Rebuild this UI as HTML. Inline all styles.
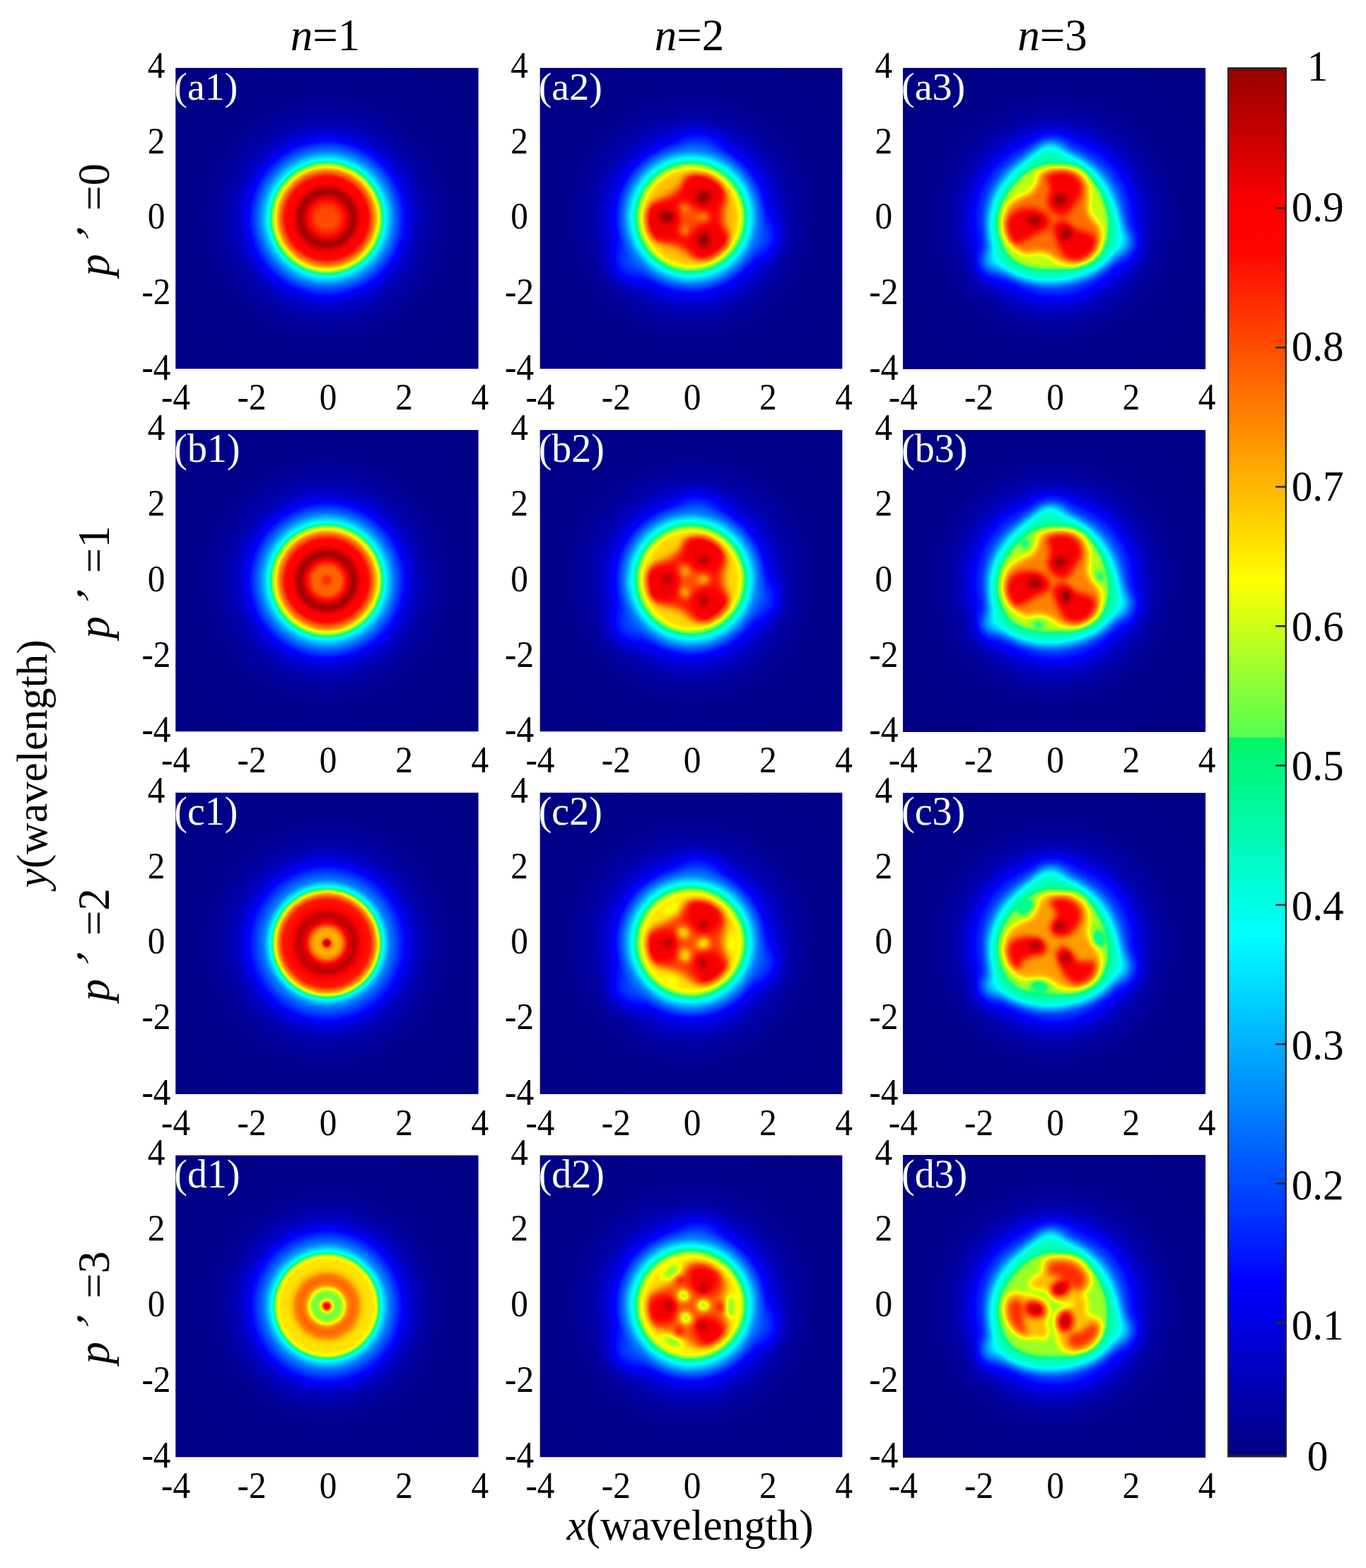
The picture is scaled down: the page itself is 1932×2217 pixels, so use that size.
<!DOCTYPE html>
<html lang="en"><head><meta charset="utf-8"><title>Figure</title>
<style>html,body{margin:0;padding:0;background:#fff}svg{display:block}text{font-family:"Liberation Serif","DejaVu Serif",serif;fill:#000}.t{font-size:52px}.b{font-size:63px}.i{font-style:italic}.w{fill:#fff;font-size:56px}</style></head><body>
<svg width="1932" height="2217" viewBox="0 0 1932 2217">
<defs>
<filter id="jet" x="0" y="0" width="100%" height="100%" color-interpolation-filters="sRGB"><feComponentTransfer><feFuncR type="table" tableValues="0 0 0 0 0 0 0 0 0 0 0 0 0 0 0 0 0 0.402 0.62 0.818 1 1 1 1 1 1 1 1 1 0.883 0.765 0.647 0.53"/><feFuncG type="table" tableValues="0 0 0 0 0 0.125 0.25 0.375 0.5 0.625 0.75 0.875 1 1 1 1 1 1 1 1 1 0.875 0.75 0.625 0.5 0.375 0.25 0.125 0 0 0 0 0"/><feFuncB type="table" tableValues="0.52 0.64 0.76 0.88 1 1 1 1 1 1 1 1 1 0.875 0.75 0.625 0.5 0.299 0.14 0.041 0 0 0 0 0 0 0 0 0 0 0 0 0"/></feComponentTransfer></filter>
<filter id="b3" filterUnits="userSpaceOnUse" x="-60" y="-60" width="548" height="546" color-interpolation-filters="sRGB"><feGaussianBlur stdDeviation="3"/></filter>
<filter id="b3_5" filterUnits="userSpaceOnUse" x="-60" y="-60" width="548" height="546" color-interpolation-filters="sRGB"><feGaussianBlur stdDeviation="3.5"/></filter>
<filter id="b4" filterUnits="userSpaceOnUse" x="-60" y="-60" width="548" height="546" color-interpolation-filters="sRGB"><feGaussianBlur stdDeviation="4"/></filter>
<filter id="b5" filterUnits="userSpaceOnUse" x="-60" y="-60" width="548" height="546" color-interpolation-filters="sRGB"><feGaussianBlur stdDeviation="5"/></filter>
<filter id="b6" filterUnits="userSpaceOnUse" x="-60" y="-60" width="548" height="546" color-interpolation-filters="sRGB"><feGaussianBlur stdDeviation="6"/></filter>
<filter id="b7" filterUnits="userSpaceOnUse" x="-60" y="-60" width="548" height="546" color-interpolation-filters="sRGB"><feGaussianBlur stdDeviation="7"/></filter>
<filter id="b8" filterUnits="userSpaceOnUse" x="-60" y="-60" width="548" height="546" color-interpolation-filters="sRGB"><feGaussianBlur stdDeviation="8"/></filter>
<filter id="b14" filterUnits="userSpaceOnUse" x="-60" y="-60" width="548" height="546" color-interpolation-filters="sRGB"><feGaussianBlur stdDeviation="14"/></filter>
<radialGradient id="ra1" gradientUnits="userSpaceOnUse" cx="213.7" cy="212.7" r="300">
<stop offset="0.0000" stop-color="#cccccc"/>
<stop offset="0.0400" stop-color="#cccccc"/>
<stop offset="0.0667" stop-color="#d4d4d4"/>
<stop offset="0.0900" stop-color="#dfdfdf"/>
<stop offset="0.1067" stop-color="#eeeeee"/>
<stop offset="0.1250" stop-color="#f9f9f9"/>
<stop offset="0.1433" stop-color="#eeeeee"/>
<stop offset="0.1633" stop-color="#dfdfdf"/>
<stop offset="0.1950" stop-color="#dedede"/>
<stop offset="0.2233" stop-color="#bfbfbf"/>
<stop offset="0.2433" stop-color="#9f9f9f"/>
<stop offset="0.2617" stop-color="#808080"/>
<stop offset="0.2767" stop-color="#606060"/>
<stop offset="0.3133" stop-color="#404040"/>
<stop offset="0.3667" stop-color="#202020"/>
<stop offset="0.4167" stop-color="#111111"/>
<stop offset="0.4700" stop-color="#090909"/>
<stop offset="0.5333" stop-color="#050505"/>
<stop offset="0.6167" stop-color="#020202"/>
<stop offset="0.7667" stop-color="#010101"/>
<stop offset="1.0000" stop-color="#000000"/>
</radialGradient>
<radialGradient id="rb1" gradientUnits="userSpaceOnUse" cx="213.7" cy="212.7" r="300">
<stop offset="0.0000" stop-color="#d4d4d4"/>
<stop offset="0.0133" stop-color="#d1d1d1"/>
<stop offset="0.0367" stop-color="#c6c6c6"/>
<stop offset="0.0667" stop-color="#c7c7c7"/>
<stop offset="0.0950" stop-color="#dfdfdf"/>
<stop offset="0.1100" stop-color="#eeeeee"/>
<stop offset="0.1267" stop-color="#f9f9f9"/>
<stop offset="0.1450" stop-color="#eeeeee"/>
<stop offset="0.1633" stop-color="#dfdfdf"/>
<stop offset="0.1950" stop-color="#dedede"/>
<stop offset="0.2233" stop-color="#bfbfbf"/>
<stop offset="0.2433" stop-color="#9f9f9f"/>
<stop offset="0.2617" stop-color="#808080"/>
<stop offset="0.2767" stop-color="#606060"/>
<stop offset="0.3133" stop-color="#404040"/>
<stop offset="0.3667" stop-color="#202020"/>
<stop offset="0.4167" stop-color="#111111"/>
<stop offset="0.4700" stop-color="#090909"/>
<stop offset="0.5333" stop-color="#050505"/>
<stop offset="0.6167" stop-color="#020202"/>
<stop offset="0.7667" stop-color="#010101"/>
<stop offset="1.0000" stop-color="#000000"/>
</radialGradient>
<radialGradient id="rc1" gradientUnits="userSpaceOnUse" cx="213.7" cy="212.7" r="300">
<stop offset="0.0000" stop-color="#f7f7f7"/>
<stop offset="0.0067" stop-color="#f2f2f2"/>
<stop offset="0.0150" stop-color="#dfdfdf"/>
<stop offset="0.0267" stop-color="#b8b8b8"/>
<stop offset="0.0467" stop-color="#b2b2b2"/>
<stop offset="0.0700" stop-color="#bababa"/>
<stop offset="0.0967" stop-color="#dfdfdf"/>
<stop offset="0.1133" stop-color="#ebebeb"/>
<stop offset="0.1300" stop-color="#f1f1f1"/>
<stop offset="0.1467" stop-color="#ebebeb"/>
<stop offset="0.1633" stop-color="#dfdfdf"/>
<stop offset="0.2067" stop-color="#d9d9d9"/>
<stop offset="0.2267" stop-color="#bfbfbf"/>
<stop offset="0.2433" stop-color="#9f9f9f"/>
<stop offset="0.2550" stop-color="#808080"/>
<stop offset="0.2680" stop-color="#606060"/>
<stop offset="0.2967" stop-color="#404040"/>
<stop offset="0.3667" stop-color="#202020"/>
<stop offset="0.4167" stop-color="#111111"/>
<stop offset="0.4700" stop-color="#090909"/>
<stop offset="0.5333" stop-color="#050505"/>
<stop offset="0.6167" stop-color="#020202"/>
<stop offset="0.7667" stop-color="#010101"/>
<stop offset="1.0000" stop-color="#000000"/>
</radialGradient>
<radialGradient id="rd1" gradientUnits="userSpaceOnUse" cx="213.7" cy="212.7" r="300">
<stop offset="0.0000" stop-color="#f2f2f2"/>
<stop offset="0.0067" stop-color="#e6e6e6"/>
<stop offset="0.0133" stop-color="#d9d9d9"/>
<stop offset="0.0283" stop-color="#9f9f9f"/>
<stop offset="0.0400" stop-color="#8c8c8c"/>
<stop offset="0.0557" stop-color="#888888"/>
<stop offset="0.0700" stop-color="#8f8f8f"/>
<stop offset="0.0833" stop-color="#9f9f9f"/>
<stop offset="0.1000" stop-color="#bdbdbd"/>
<stop offset="0.1233" stop-color="#c6c6c6"/>
<stop offset="0.1467" stop-color="#bfbfbf"/>
<stop offset="0.1667" stop-color="#adadad"/>
<stop offset="0.1867" stop-color="#a7a7a7"/>
<stop offset="0.2133" stop-color="#a6a6a6"/>
<stop offset="0.2333" stop-color="#9f9f9f"/>
<stop offset="0.2457" stop-color="#808080"/>
<stop offset="0.2600" stop-color="#606060"/>
<stop offset="0.2933" stop-color="#404040"/>
<stop offset="0.3567" stop-color="#202020"/>
<stop offset="0.4033" stop-color="#111111"/>
<stop offset="0.4567" stop-color="#090909"/>
<stop offset="0.5200" stop-color="#040404"/>
<stop offset="0.6000" stop-color="#020202"/>
<stop offset="0.7500" stop-color="#010101"/>
<stop offset="1.0000" stop-color="#000000"/>
</radialGradient>
<radialGradient id="rh2" gradientUnits="userSpaceOnUse" cx="213.7" cy="212.7" r="300">
<stop offset="0.0000" stop-color="#b0b0b0"/>
<stop offset="0.1933" stop-color="#b0b0b0"/>
<stop offset="0.2133" stop-color="#acacac"/>
<stop offset="0.2333" stop-color="#9f9f9f"/>
<stop offset="0.2557" stop-color="#808080"/>
<stop offset="0.2800" stop-color="#606060"/>
<stop offset="0.3133" stop-color="#404040"/>
<stop offset="0.3567" stop-color="#202020"/>
<stop offset="0.4167" stop-color="#111111"/>
<stop offset="0.4700" stop-color="#090909"/>
<stop offset="0.5333" stop-color="#050505"/>
<stop offset="0.6167" stop-color="#020202"/>
<stop offset="0.7667" stop-color="#010101"/>
<stop offset="1.0000" stop-color="#000000"/>
</radialGradient>
<radialGradient id="rh2b" gradientUnits="userSpaceOnUse" cx="213.7" cy="212.7" r="300">
<stop offset="0.0000" stop-color="#aaaaaa"/>
<stop offset="0.2000" stop-color="#aaaaaa"/>
<stop offset="0.2167" stop-color="#a7a7a7"/>
<stop offset="0.2333" stop-color="#9f9f9f"/>
<stop offset="0.2557" stop-color="#808080"/>
<stop offset="0.2800" stop-color="#606060"/>
<stop offset="0.3133" stop-color="#404040"/>
<stop offset="0.3567" stop-color="#202020"/>
<stop offset="0.4167" stop-color="#111111"/>
<stop offset="0.4700" stop-color="#090909"/>
<stop offset="0.5333" stop-color="#050505"/>
<stop offset="0.6167" stop-color="#020202"/>
<stop offset="0.7667" stop-color="#010101"/>
<stop offset="1.0000" stop-color="#000000"/>
</radialGradient>
<radialGradient id="rh2c" gradientUnits="userSpaceOnUse" cx="213.7" cy="212.7" r="300">
<stop offset="0.0000" stop-color="#a7a7a7"/>
<stop offset="0.2067" stop-color="#a7a7a7"/>
<stop offset="0.2333" stop-color="#9f9f9f"/>
<stop offset="0.2557" stop-color="#808080"/>
<stop offset="0.2800" stop-color="#606060"/>
<stop offset="0.3133" stop-color="#404040"/>
<stop offset="0.3567" stop-color="#202020"/>
<stop offset="0.4167" stop-color="#111111"/>
<stop offset="0.4700" stop-color="#090909"/>
<stop offset="0.5333" stop-color="#050505"/>
<stop offset="0.6167" stop-color="#020202"/>
<stop offset="0.7667" stop-color="#010101"/>
<stop offset="1.0000" stop-color="#000000"/>
</radialGradient>
<radialGradient id="rh3" gradientUnits="userSpaceOnUse" cx="213.7" cy="212.7" r="300">
<stop offset="0.0000" stop-color="#666666"/>
<stop offset="0.2467" stop-color="#666666"/>
<stop offset="0.2800" stop-color="#575757"/>
<stop offset="0.3100" stop-color="#404040"/>
<stop offset="0.3367" stop-color="#303030"/>
<stop offset="0.3767" stop-color="#202020"/>
<stop offset="0.4300" stop-color="#111111"/>
<stop offset="0.4833" stop-color="#090909"/>
<stop offset="0.5467" stop-color="#050505"/>
<stop offset="0.6267" stop-color="#020202"/>
<stop offset="0.7733" stop-color="#010101"/>
<stop offset="1.0000" stop-color="#000000"/>
</radialGradient>
<radialGradient id="mkg" gradientUnits="userSpaceOnUse" cx="213.7" cy="211.5" r="74"><stop offset="0" stop-color="#fff"/><stop offset="0.78" stop-color="#fff"/><stop offset="0.865" stop-color="#888"/><stop offset="0.95" stop-color="#000"/><stop offset="1" stop-color="#000"/></radialGradient>
<mask id="mk2" maskUnits="userSpaceOnUse" x="0" y="0" width="428" height="426"><rect width="428" height="426" fill="url(#mkg)"/></mask>
<linearGradient id="cb" gradientUnits="userSpaceOnUse" x1="0" y1="2067.4" x2="0" y2="97.3">
<stop offset="0.0000" stop-color="#000080"/>
<stop offset="0.1280" stop-color="#0000ff"/>
<stop offset="0.3770" stop-color="#00ffff"/>
<stop offset="0.5195" stop-color="#00f566"/>
<stop offset="0.5205" stop-color="#55ff50"/>
<stop offset="0.6320" stop-color="#ffff00"/>
<stop offset="0.8700" stop-color="#ff0400"/>
<stop offset="0.9050" stop-color="#fa0000"/>
<stop offset="1.0000" stop-color="#960000"/>
</linearGradient>
</defs>
<rect width="1932" height="2217" fill="#fff"/>
<svg x="248.3" y="96.0" width="428.3" height="425.5" viewBox="0 0 428.0 426.0" preserveAspectRatio="none" overflow="hidden"><g filter="url(#jet)"><rect x="-2" y="-2" width="432.0" height="430.0" fill="#000"/><circle cx="213.7" cy="212.7" r="400" fill="url(#ra1)"/></g><text class="w" x="-2" y="45">(a1)</text></svg>
<text class="t" transform="translate(221.0,109.9) scale(0.95,1)" text-anchor="middle">4</text>
<text class="t" transform="translate(221.0,216.6) scale(0.95,1)" text-anchor="middle">2</text>
<text class="t" transform="translate(221.0,323.3) scale(0.95,1)" text-anchor="middle">0</text>
<text class="t" transform="translate(221.0,430.0) scale(0.95,1)" text-anchor="middle">-2</text>
<text class="t" transform="translate(221.0,536.7) scale(0.95,1)" text-anchor="middle">-4</text>
<text class="t" transform="translate(248.6,579.2) scale(0.95,1)" text-anchor="middle">-4</text>
<text class="t" transform="translate(356.1,579.2) scale(0.95,1)" text-anchor="middle">-2</text>
<text class="t" transform="translate(464.0,579.2) scale(0.95,1)" text-anchor="middle">0</text>
<text class="t" transform="translate(571.5,579.2) scale(0.95,1)" text-anchor="middle">2</text>
<text class="t" transform="translate(678.9,579.2) scale(0.95,1)" text-anchor="middle">4</text>
<svg x="763.7" y="96.0" width="427.6" height="425.5" viewBox="0 0 428.0 426.0" preserveAspectRatio="none" overflow="hidden"><g filter="url(#jet)"><rect x="-2" y="-2" width="432.0" height="430.0" fill="#000"/><circle cx="213.7" cy="212.7" r="400" fill="url(#rh2)" transform="translate(0.0,-1.2)"/><g filter="url(#b14)" fill="#404040" opacity="0.7" style="mix-blend-mode:lighten"><ellipse cx="224.5" cy="115.8" rx="26.8" ry="20.1"/><ellipse cx="311.6" cy="240.3" rx="22.8" ry="24.1"/><ellipse cx="128.1" cy="275.1" rx="25.4" ry="22.8"/></g><g mask="url(#mk2)"><g filter="url(#b6)" fill="#dedede"><path d="M213.8 151.9C219.4 150.4 231.9 148.4 239.3 150.6C246.6 152.8 254.0 159.3 258.0 165.3C262.1 171.3 263.3 180.3 263.4 186.8C263.5 193.2 259.3 198.6 258.7 204.2C258.1 209.7 258.6 214.2 260.0 220.2C261.5 226.3 266.2 233.6 267.4 240.3C268.6 247.0 270.1 255.1 267.4 260.4C264.7 265.8 257.4 270.2 251.3 272.5C245.3 274.7 237.5 274.9 231.2 273.8C225.0 272.7 219.0 268.9 213.8 265.8C208.7 262.6 206.0 258.0 200.4 255.1C194.9 252.2 187.0 250.8 180.4 248.4C173.7 245.9 165.4 245.0 160.3 240.3C155.1 235.6 151.1 226.9 149.5 220.2C148.0 213.5 148.2 205.3 150.9 200.1C153.6 195.0 160.5 192.6 165.6 189.4C170.8 186.3 176.8 184.3 181.7 181.4C186.6 178.5 191.1 175.6 195.1 172.0C199.1 168.4 202.7 163.3 205.8 160.0C208.9 156.6 208.3 153.5 213.8 151.9Z"/></g><g filter="url(#b6)" fill="#e2e2e2"><path d="M211.2 153.3C217.2 150.6 232.8 149.5 240.6 151.9C248.4 154.4 255.4 162.2 258.0 168.0C260.7 173.8 259.1 181.4 256.7 186.8C254.2 192.1 249.1 197.9 243.3 200.1C237.5 202.4 227.7 202.4 221.9 200.1C216.1 197.9 211.4 192.1 208.5 186.8C205.6 181.4 204.0 173.6 204.5 168.0C204.9 162.4 205.1 155.9 211.2 153.3Z"/><path d="M152.2 202.8C155.4 197.9 162.0 193.4 168.3 192.1C174.5 190.8 184.6 191.7 189.7 194.8C194.9 197.9 198.2 205.1 199.1 210.9C200.0 216.7 198.4 224.5 195.1 229.6C191.7 234.7 185.3 240.1 179.0 241.7C172.8 243.2 162.5 242.3 157.6 239.0C152.7 235.6 150.4 227.6 149.5 221.6C148.7 215.5 149.1 207.7 152.2 202.8Z"/><path d="M217.9 226.9C222.3 223.4 233.5 220.2 240.6 221.6C247.8 222.9 256.5 229.6 260.7 235.0C265.0 240.3 267.2 247.9 266.1 253.7C265.0 259.5 259.4 266.7 254.0 269.8C248.7 272.9 239.5 274.0 233.9 272.5C228.3 270.9 223.9 265.3 220.5 260.4C217.2 255.5 214.3 248.6 213.8 243.0C213.4 237.4 213.4 230.5 217.9 226.9Z"/></g><g filter="url(#b4)" fill="#ffffff"><ellipse cx="231.2" cy="183.4" rx="10.0" ry="8.3" transform="rotate(-30 231.2 183.4)"/><ellipse cx="179.0" cy="210.9" rx="10.0" ry="8.3" transform="rotate(10 179.0 210.9)"/><ellipse cx="231.9" cy="243.7" rx="8.3" ry="10.4" transform="rotate(-10 231.9 243.7)"/></g><g filter="url(#b5)" fill="#cccccc"><ellipse cx="213.8" cy="212.9" rx="14.7" ry="14.7"/></g><g filter="url(#b4)" fill="#bbbbbb"><ellipse cx="205.1" cy="198.8" rx="8.0" ry="6.7" transform="rotate(40 205.1 198.8)"/><ellipse cx="231.2" cy="210.9" rx="8.7" ry="6.7"/><ellipse cx="205.1" cy="229.6" rx="6.7" ry="8.3" transform="rotate(-30 205.1 229.6)"/></g></g></g><text class="w" x="-2" y="45">(a2)</text></svg>
<text class="t" transform="translate(734.6,109.9) scale(0.95,1)" text-anchor="middle">4</text>
<text class="t" transform="translate(734.6,216.6) scale(0.95,1)" text-anchor="middle">2</text>
<text class="t" transform="translate(734.6,323.3) scale(0.95,1)" text-anchor="middle">0</text>
<text class="t" transform="translate(734.6,430.0) scale(0.95,1)" text-anchor="middle">-2</text>
<text class="t" transform="translate(734.6,536.7) scale(0.95,1)" text-anchor="middle">-4</text>
<text class="t" transform="translate(764.0,579.2) scale(0.95,1)" text-anchor="middle">-4</text>
<text class="t" transform="translate(871.3,579.2) scale(0.95,1)" text-anchor="middle">-2</text>
<text class="t" transform="translate(979.0,579.2) scale(0.95,1)" text-anchor="middle">0</text>
<text class="t" transform="translate(1086.3,579.2) scale(0.95,1)" text-anchor="middle">2</text>
<text class="t" transform="translate(1193.6,579.2) scale(0.95,1)" text-anchor="middle">4</text>
<svg x="1277.0" y="96.0" width="427.9" height="425.5" viewBox="0 0 428.0 426.0" preserveAspectRatio="none" overflow="hidden"><g filter="url(#jet)"><rect x="-2" y="-2" width="432.0" height="430.0" fill="#000"/><circle cx="213.7" cy="212.7" r="400" fill="url(#rh3)" transform="translate(0.0,0.0)"/><g filter="url(#b14)" fill="#404040" opacity="0.65" style="mix-blend-mode:lighten"><ellipse cx="210.5" cy="118.4" rx="25.4" ry="20.1"/><ellipse cx="306.9" cy="249.7" rx="24.1" ry="22.8" transform="rotate(30 306.9 249.7)"/><ellipse cx="131.5" cy="275.1" rx="25.4" ry="22.8" transform="rotate(-30 131.5 275.1)"/></g><g filter="url(#b8)" fill="#616161" opacity="0.8" style="mix-blend-mode:lighten"><ellipse cx="210.5" cy="118.4" rx="16.1" ry="12.7"/><ellipse cx="306.9" cy="247.0" rx="13.4" ry="16.7" transform="rotate(30 306.9 247.0)"/><ellipse cx="130.2" cy="271.1" rx="16.7" ry="13.4" transform="rotate(-30 130.2 271.1)"/></g><g filter="url(#b7)" fill="#747474"><path d="M208.7 113.6C217.7 115.3 233.1 122.2 243.8 128.9C254.5 135.6 264.5 143.5 273.0 153.8C281.5 164.0 289.0 177.8 294.9 190.3C300.7 202.7 307.0 216.8 308.0 228.2C309.0 239.6 306.3 249.4 300.7 258.9C295.1 268.4 286.4 278.6 274.4 285.1C262.5 291.7 244.0 295.8 229.2 298.3C214.3 300.7 199.0 301.4 185.4 299.7C171.8 298.0 156.7 293.9 147.4 288.1C138.2 282.2 133.8 274.7 129.9 264.7C126.0 254.7 124.1 240.4 124.1 228.2C124.1 216.0 126.0 202.7 129.9 191.7C133.8 180.8 140.6 171.8 147.4 162.5C154.2 153.3 163.7 143.5 170.8 136.2C177.8 128.9 183.4 122.5 189.8 118.7C196.1 114.9 199.7 111.9 208.7 113.6Z"/></g><g filter="url(#b3_5)" fill="#959595"><path d="M214.6 136.3C223.1 136.8 239.8 136.3 249.0 140.4C258.2 144.6 264.0 153.6 269.7 161.1C275.5 168.7 280.1 177.2 283.5 186.0C287.0 194.7 289.5 204.4 290.4 213.6C291.3 222.8 291.3 232.2 289.0 241.1C286.7 250.1 283.3 260.5 276.6 267.4C270.0 274.3 259.4 279.5 249.0 282.5C238.7 285.5 226.0 285.3 214.6 285.3C203.1 285.3 190.4 285.3 180.1 282.5C169.7 279.8 159.6 275.6 152.5 268.7C145.3 261.8 140.3 250.3 137.3 241.1C134.3 232.0 133.6 222.8 134.5 213.6C135.5 204.4 138.7 194.5 142.8 186.0C147.0 177.5 153.2 169.4 159.4 162.5C165.6 155.6 173.6 148.7 180.1 144.6C186.5 140.4 192.3 139.1 198.0 137.7C203.7 136.3 206.0 135.8 214.6 136.3Z"/></g><g filter="url(#b5)" fill="#c4c4c4"><path d="M214.5 143.9C221.2 144.1 234.0 143.9 241.3 146.6C248.7 149.2 255.2 154.4 258.7 160.0C262.3 165.5 262.3 173.4 262.8 180.1C263.2 186.8 260.5 194.6 261.4 200.1C262.3 205.7 265.2 209.1 268.1 213.5C271.0 218.0 277.0 221.3 278.8 226.9C280.6 232.5 281.1 240.3 278.8 247.0C276.6 253.7 271.7 262.2 265.4 267.1C259.2 272.0 248.7 275.4 241.3 276.5C234.0 277.6 226.8 275.8 221.2 273.8C215.7 271.8 213.0 266.7 207.8 264.4C202.7 262.2 196.0 260.6 190.4 260.4C184.8 260.2 179.7 264.2 174.4 263.1C169.0 262.0 163.2 258.6 158.3 253.7C153.4 248.8 147.3 240.3 144.9 233.6C142.4 226.9 142.7 220.0 143.6 213.5C144.4 207.1 146.7 199.7 150.2 194.8C153.8 189.9 159.8 187.2 165.0 184.1C170.1 180.9 176.8 179.6 181.1 176.0C185.3 172.5 188.4 166.9 190.4 162.6C192.4 158.4 191.3 153.5 193.1 150.6C194.9 147.7 197.6 146.3 201.1 145.2C204.7 144.1 207.8 143.7 214.5 143.9Z"/></g><g filter="url(#b5)" fill="#e2e2e2"><path d="M204.3 153.1C207.5 148.8 221.2 146.2 228.4 146.7C235.7 147.2 243.7 151.5 247.7 156.3C251.7 161.2 253.6 168.9 252.5 175.6C251.5 182.3 245.3 190.9 241.3 196.5C237.3 202.1 233.3 208.0 228.4 209.4C223.6 210.7 216.4 208.0 212.4 204.5C208.3 201.1 204.9 193.8 204.3 188.5C203.8 183.1 209.1 178.3 209.1 172.4C209.1 166.5 201.1 157.4 204.3 153.1Z"/><path d="M149.9 211.6C152.8 206.5 159.2 202.2 165.9 200.4C172.6 198.5 183.3 198.5 190.0 200.4C196.7 202.2 203.7 207.0 206.1 211.6C208.5 216.2 207.2 223.9 204.5 227.7C201.8 231.4 195.1 231.4 190.0 234.1C185.0 236.8 179.3 241.3 174.0 243.7C168.6 246.2 162.2 250.7 157.9 248.6C153.6 246.4 149.6 237.0 148.3 230.9C146.9 224.7 146.9 216.7 149.9 211.6Z"/><path d="M212.3 223.8C213.9 218.4 223.5 215.2 228.3 215.7C233.2 216.3 236.4 224.3 241.2 227.0C246.0 229.7 252.2 229.7 257.3 231.8C262.4 234.0 269.9 235.3 271.7 239.8C273.6 244.4 272.3 253.8 268.5 259.1C264.8 264.5 255.7 270.6 249.2 272.0C242.8 273.3 235.0 271.2 230.0 267.2C224.9 263.1 221.6 255.1 218.7 247.9C215.8 240.6 210.7 229.1 212.3 223.8Z"/></g><g filter="url(#b4)" fill="#ffffff"><ellipse cx="222.6" cy="186.8" rx="8.7" ry="7.0" transform="rotate(-30 222.6 186.8)"/><ellipse cx="186.4" cy="216.2" rx="9.1" ry="7.0" transform="rotate(10 186.4 216.2)"/><ellipse cx="230.6" cy="235.0" rx="7.0" ry="9.4" transform="rotate(10 230.6 235.0)"/></g></g><text class="w" x="-2" y="45">(a3)</text></svg>
<text class="t" transform="translate(1249.8,109.9) scale(0.95,1)" text-anchor="middle">4</text>
<text class="t" transform="translate(1249.8,216.6) scale(0.95,1)" text-anchor="middle">2</text>
<text class="t" transform="translate(1249.8,323.3) scale(0.95,1)" text-anchor="middle">0</text>
<text class="t" transform="translate(1249.8,430.0) scale(0.95,1)" text-anchor="middle">-2</text>
<text class="t" transform="translate(1249.8,536.7) scale(0.95,1)" text-anchor="middle">-4</text>
<text class="t" transform="translate(1277.3,579.2) scale(0.95,1)" text-anchor="middle">-4</text>
<text class="t" transform="translate(1384.7,579.2) scale(0.95,1)" text-anchor="middle">-2</text>
<text class="t" transform="translate(1492.5,579.2) scale(0.95,1)" text-anchor="middle">0</text>
<text class="t" transform="translate(1599.8,579.2) scale(0.95,1)" text-anchor="middle">2</text>
<text class="t" transform="translate(1707.2,579.2) scale(0.95,1)" text-anchor="middle">4</text>
<svg x="248.3" y="608.1" width="428.3" height="426.1" viewBox="0 0 428.0 426.0" preserveAspectRatio="none" overflow="hidden"><g filter="url(#jet)"><rect x="-2" y="-2" width="432.0" height="430.0" fill="#000"/><circle cx="213.7" cy="212.7" r="400" fill="url(#rb1)"/></g><text class="w" x="-2" y="45">(b1)</text></svg>
<text class="t" transform="translate(221.0,622.0) scale(0.95,1)" text-anchor="middle">4</text>
<text class="t" transform="translate(221.0,728.9) scale(0.95,1)" text-anchor="middle">2</text>
<text class="t" transform="translate(221.0,835.7) scale(0.95,1)" text-anchor="middle">0</text>
<text class="t" transform="translate(221.0,942.5) scale(0.95,1)" text-anchor="middle">-2</text>
<text class="t" transform="translate(221.0,1049.4) scale(0.95,1)" text-anchor="middle">-4</text>
<text class="t" transform="translate(248.6,1091.9) scale(0.95,1)" text-anchor="middle">-4</text>
<text class="t" transform="translate(356.1,1091.9) scale(0.95,1)" text-anchor="middle">-2</text>
<text class="t" transform="translate(464.0,1091.9) scale(0.95,1)" text-anchor="middle">0</text>
<text class="t" transform="translate(571.5,1091.9) scale(0.95,1)" text-anchor="middle">2</text>
<text class="t" transform="translate(678.9,1091.9) scale(0.95,1)" text-anchor="middle">4</text>
<svg x="763.7" y="608.1" width="427.6" height="426.1" viewBox="0 0 428.0 426.0" preserveAspectRatio="none" overflow="hidden"><g filter="url(#jet)"><rect x="-2" y="-2" width="432.0" height="430.0" fill="#000"/><circle cx="213.7" cy="212.7" r="400" fill="url(#rh2b)" transform="translate(0.0,-1.2)"/><g filter="url(#b14)" fill="#404040" opacity="0.7" style="mix-blend-mode:lighten"><ellipse cx="224.5" cy="115.7" rx="26.8" ry="20.1"/><ellipse cx="311.6" cy="240.2" rx="22.8" ry="24.1"/><ellipse cx="128.1" cy="275.0" rx="25.4" ry="22.8"/></g><g mask="url(#mk2)"><g filter="url(#b6)" fill="#d9d9d9"><path d="M213.8 151.8C219.4 150.3 231.9 148.3 239.3 150.5C246.6 152.7 254.0 159.2 258.0 165.2C262.1 171.2 263.3 180.2 263.4 186.6C263.5 193.1 259.3 198.5 258.7 204.1C258.1 209.6 258.6 214.1 260.0 220.1C261.5 226.2 266.2 233.5 267.4 240.2C268.6 246.9 270.1 255.0 267.4 260.3C264.7 265.7 257.4 270.1 251.3 272.4C245.3 274.6 237.5 274.8 231.2 273.7C225.0 272.6 219.0 268.8 213.8 265.7C208.7 262.5 206.0 257.9 200.4 255.0C194.9 252.1 187.0 250.7 180.4 248.3C173.7 245.8 165.4 244.9 160.3 240.2C155.1 235.5 151.1 226.8 149.5 220.1C148.0 213.4 148.2 205.2 150.9 200.0C153.6 194.9 160.5 192.5 165.6 189.3C170.8 186.2 176.8 184.2 181.7 181.3C186.6 178.4 191.1 175.5 195.1 171.9C199.1 168.3 202.7 163.2 205.8 159.9C208.9 156.5 208.3 153.4 213.8 151.8Z"/></g><g filter="url(#b6)" fill="#e2e2e2"><path d="M211.2 153.2C217.2 150.5 232.8 149.4 240.6 151.8C248.4 154.3 255.4 162.1 258.0 167.9C260.7 173.7 259.1 181.3 256.7 186.6C254.2 192.0 249.1 197.8 243.3 200.0C237.5 202.3 227.7 202.3 221.9 200.0C216.1 197.8 211.4 192.0 208.5 186.6C205.6 181.3 204.0 173.5 204.5 167.9C204.9 162.3 205.1 155.8 211.2 153.2Z"/><path d="M152.2 202.7C155.4 197.8 162.0 193.3 168.3 192.0C174.5 190.7 184.6 191.6 189.7 194.7C194.9 197.8 198.2 205.0 199.1 210.8C200.0 216.6 198.4 224.4 195.1 229.5C191.7 234.6 185.3 240.0 179.0 241.6C172.8 243.1 162.5 242.2 157.6 238.9C152.7 235.5 150.4 227.5 149.5 221.5C148.7 215.4 149.1 207.6 152.2 202.7Z"/><path d="M217.9 226.8C222.3 223.3 233.5 220.1 240.6 221.5C247.8 222.8 256.5 229.5 260.7 234.9C265.0 240.2 267.2 247.8 266.1 253.6C265.0 259.4 259.4 266.6 254.0 269.7C248.7 272.8 239.5 273.9 233.9 272.4C228.3 270.8 223.9 265.2 220.5 260.3C217.2 255.4 214.3 248.5 213.8 242.9C213.4 237.3 213.4 230.4 217.9 226.8Z"/></g><g filter="url(#b4)" fill="#fbfbfb"><ellipse cx="231.2" cy="184.0" rx="6.7" ry="5.4" transform="rotate(-30 231.2 184.0)"/><ellipse cx="180.4" cy="210.8" rx="6.7" ry="5.4" transform="rotate(10 180.4 210.8)"/><ellipse cx="231.2" cy="241.6" rx="5.4" ry="7.0" transform="rotate(-10 231.2 241.6)"/></g><g filter="url(#b5)" fill="#cccccc"><ellipse cx="213.8" cy="212.8" rx="14.7" ry="14.7"/></g><g filter="url(#b4)" fill="#b0b0b0"><ellipse cx="205.1" cy="198.7" rx="8.0" ry="6.7" transform="rotate(40 205.1 198.7)"/><ellipse cx="231.2" cy="210.8" rx="8.7" ry="6.7"/><ellipse cx="205.1" cy="229.5" rx="6.7" ry="8.3" transform="rotate(-30 205.1 229.5)"/></g></g></g><text class="w" x="-2" y="45">(b2)</text></svg>
<text class="t" transform="translate(734.6,622.0) scale(0.95,1)" text-anchor="middle">4</text>
<text class="t" transform="translate(734.6,728.9) scale(0.95,1)" text-anchor="middle">2</text>
<text class="t" transform="translate(734.6,835.7) scale(0.95,1)" text-anchor="middle">0</text>
<text class="t" transform="translate(734.6,942.5) scale(0.95,1)" text-anchor="middle">-2</text>
<text class="t" transform="translate(734.6,1049.4) scale(0.95,1)" text-anchor="middle">-4</text>
<text class="t" transform="translate(764.0,1091.9) scale(0.95,1)" text-anchor="middle">-4</text>
<text class="t" transform="translate(871.3,1091.9) scale(0.95,1)" text-anchor="middle">-2</text>
<text class="t" transform="translate(979.0,1091.9) scale(0.95,1)" text-anchor="middle">0</text>
<text class="t" transform="translate(1086.3,1091.9) scale(0.95,1)" text-anchor="middle">2</text>
<text class="t" transform="translate(1193.6,1091.9) scale(0.95,1)" text-anchor="middle">4</text>
<svg x="1277.0" y="608.1" width="427.9" height="426.1" viewBox="0 0 428.0 426.0" preserveAspectRatio="none" overflow="hidden"><g filter="url(#jet)"><rect x="-2" y="-2" width="432.0" height="430.0" fill="#000"/><circle cx="213.7" cy="212.7" r="400" fill="url(#rh3)" transform="translate(0.0,0.0)"/><g filter="url(#b14)" fill="#404040" opacity="0.65" style="mix-blend-mode:lighten"><ellipse cx="210.5" cy="118.3" rx="25.4" ry="20.1"/><ellipse cx="306.9" cy="249.6" rx="24.1" ry="22.8" transform="rotate(30 306.9 249.6)"/><ellipse cx="131.5" cy="275.0" rx="25.4" ry="22.8" transform="rotate(-30 131.5 275.0)"/></g><g filter="url(#b8)" fill="#616161" opacity="0.8" style="mix-blend-mode:lighten"><ellipse cx="210.5" cy="118.3" rx="16.1" ry="12.7"/><ellipse cx="306.9" cy="246.9" rx="13.4" ry="16.7" transform="rotate(30 306.9 246.9)"/><ellipse cx="130.2" cy="271.0" rx="16.7" ry="13.4" transform="rotate(-30 130.2 271.0)"/></g><g filter="url(#b7)" fill="#747474"><path d="M208.7 113.5C217.7 115.2 233.1 122.1 243.8 128.8C254.5 135.5 264.5 143.4 273.0 153.7C281.5 163.9 289.0 177.7 294.9 190.2C300.7 202.6 307.0 216.7 308.0 228.1C309.0 239.5 306.3 249.3 300.7 258.8C295.1 268.3 286.4 278.5 274.4 285.0C262.5 291.6 244.0 295.7 229.2 298.2C214.3 300.6 199.0 301.3 185.4 299.6C171.8 297.9 156.7 293.8 147.4 288.0C138.2 282.1 133.8 274.6 129.9 264.6C126.0 254.6 124.1 240.3 124.1 228.1C124.1 215.9 126.0 202.6 129.9 191.6C133.8 180.7 140.6 171.7 147.4 162.4C154.2 153.2 163.7 143.4 170.8 136.1C177.8 128.8 183.4 122.4 189.8 118.6C196.1 114.8 199.7 111.8 208.7 113.5Z"/></g><g filter="url(#b3_5)" fill="#939393"><path d="M214.6 136.2C223.1 136.7 239.8 136.2 249.0 140.3C258.2 144.5 264.0 153.5 269.7 161.0C275.5 168.6 280.1 177.1 283.5 185.9C287.0 194.6 289.5 204.3 290.4 213.5C291.3 222.7 291.3 232.1 289.0 241.0C286.7 250.0 283.3 260.4 276.6 267.3C270.0 274.2 259.4 279.4 249.0 282.4C238.7 285.4 226.0 285.2 214.6 285.2C203.1 285.2 190.4 285.2 180.1 282.4C169.7 279.7 159.6 275.5 152.5 268.6C145.3 261.7 140.3 250.2 137.3 241.0C134.3 231.9 133.6 222.7 134.5 213.5C135.5 204.3 138.7 194.4 142.8 185.9C147.0 177.4 153.2 169.3 159.4 162.4C165.6 155.5 173.6 148.6 180.1 144.5C186.5 140.3 192.3 139.0 198.0 137.6C203.7 136.2 206.0 135.7 214.6 136.2Z"/></g><g filter="url(#b4)" fill="#7d7d7d"><ellipse cx="173.0" cy="159.9" rx="9.4" ry="6.7" transform="rotate(-30 173.0 159.9)"/><ellipse cx="278.8" cy="206.7" rx="6.0" ry="9.4"/><ellipse cx="191.8" cy="275.0" rx="9.4" ry="6.0" transform="rotate(10 191.8 275.0)"/></g><g filter="url(#b5)" fill="#bfbfbf"><path d="M214.5 143.8C221.2 144.0 234.0 143.8 241.3 146.5C248.7 149.1 255.2 154.3 258.7 159.9C262.3 165.4 262.3 173.3 262.8 180.0C263.2 186.6 260.5 194.5 261.4 200.0C262.3 205.6 265.2 209.0 268.1 213.4C271.0 217.9 277.0 221.2 278.8 226.8C280.6 232.4 281.1 240.2 278.8 246.9C276.6 253.6 271.7 262.1 265.4 267.0C259.2 271.9 248.7 275.3 241.3 276.4C234.0 277.5 226.8 275.7 221.2 273.7C215.7 271.7 213.0 266.6 207.8 264.3C202.7 262.1 196.0 260.5 190.4 260.3C184.8 260.1 179.7 264.1 174.4 263.0C169.0 261.9 163.2 258.5 158.3 253.6C153.4 248.7 147.3 240.2 144.9 233.5C142.4 226.8 142.7 219.9 143.6 213.4C144.4 207.0 146.7 199.6 150.2 194.7C153.8 189.8 159.8 187.1 165.0 184.0C170.1 180.8 176.8 179.5 181.1 175.9C185.3 172.4 188.4 166.8 190.4 162.5C192.4 158.3 191.3 153.4 193.1 150.5C194.9 147.6 197.6 146.2 201.1 145.1C204.7 144.0 207.8 143.6 214.5 143.8Z"/></g><g filter="url(#b5)" fill="#e2e2e2"><path d="M204.3 153.0C207.5 148.7 221.2 146.1 228.4 146.6C235.7 147.1 243.7 151.4 247.7 156.2C251.7 161.1 253.6 168.8 252.5 175.5C251.5 182.2 245.3 190.8 241.3 196.4C237.3 202.0 233.3 207.9 228.4 209.3C223.6 210.6 216.4 207.9 212.4 204.4C208.3 201.0 204.9 193.7 204.3 188.4C203.8 183.0 209.1 178.2 209.1 172.3C209.1 166.4 201.1 157.3 204.3 153.0Z"/><path d="M149.9 211.5C152.8 206.4 159.2 202.1 165.9 200.3C172.6 198.4 183.3 198.4 190.0 200.3C196.7 202.1 203.7 206.9 206.1 211.5C208.5 216.1 207.2 223.8 204.5 227.6C201.8 231.3 195.1 231.3 190.0 234.0C185.0 236.7 179.3 241.2 174.0 243.6C168.6 246.1 162.2 250.6 157.9 248.5C153.6 246.3 149.6 236.9 148.3 230.8C146.9 224.6 146.9 216.6 149.9 211.5Z"/><path d="M212.3 223.7C213.9 218.3 223.5 215.1 228.3 215.6C233.2 216.2 236.4 224.2 241.2 226.9C246.0 229.6 252.2 229.6 257.3 231.7C262.4 233.9 269.9 235.2 271.7 239.7C273.6 244.3 272.3 253.7 268.5 259.0C264.8 264.4 255.7 270.5 249.2 271.9C242.8 273.2 235.0 271.1 230.0 267.1C224.9 263.0 221.6 255.0 218.7 247.8C215.8 240.5 210.7 229.0 212.3 223.7Z"/></g><g filter="url(#b4)" fill="#ffffff"><ellipse cx="222.6" cy="186.6" rx="8.7" ry="7.0" transform="rotate(-30 222.6 186.6)"/><ellipse cx="186.4" cy="216.1" rx="9.1" ry="7.0" transform="rotate(10 186.4 216.1)"/><ellipse cx="230.6" cy="234.9" rx="7.0" ry="9.4" transform="rotate(10 230.6 234.9)"/></g></g><text class="w" x="-2" y="45">(b3)</text></svg>
<text class="t" transform="translate(1249.8,622.0) scale(0.95,1)" text-anchor="middle">4</text>
<text class="t" transform="translate(1249.8,728.9) scale(0.95,1)" text-anchor="middle">2</text>
<text class="t" transform="translate(1249.8,835.7) scale(0.95,1)" text-anchor="middle">0</text>
<text class="t" transform="translate(1249.8,942.5) scale(0.95,1)" text-anchor="middle">-2</text>
<text class="t" transform="translate(1249.8,1049.4) scale(0.95,1)" text-anchor="middle">-4</text>
<text class="t" transform="translate(1277.3,1091.9) scale(0.95,1)" text-anchor="middle">-4</text>
<text class="t" transform="translate(1384.7,1091.9) scale(0.95,1)" text-anchor="middle">-2</text>
<text class="t" transform="translate(1492.5,1091.9) scale(0.95,1)" text-anchor="middle">0</text>
<text class="t" transform="translate(1599.8,1091.9) scale(0.95,1)" text-anchor="middle">2</text>
<text class="t" transform="translate(1707.2,1091.9) scale(0.95,1)" text-anchor="middle">4</text>
<svg x="248.3" y="1120.8" width="428.3" height="426.1" viewBox="0 0 428.0 426.0" preserveAspectRatio="none" overflow="hidden"><g filter="url(#jet)"><rect x="-2" y="-2" width="432.0" height="430.0" fill="#000"/><circle cx="213.7" cy="212.7" r="400" fill="url(#rc1)"/></g><text class="w" x="-2" y="45">(c1)</text></svg>
<text class="t" transform="translate(221.0,1134.7) scale(0.95,1)" text-anchor="middle">4</text>
<text class="t" transform="translate(221.0,1241.6) scale(0.95,1)" text-anchor="middle">2</text>
<text class="t" transform="translate(221.0,1348.4) scale(0.95,1)" text-anchor="middle">0</text>
<text class="t" transform="translate(221.0,1455.3) scale(0.95,1)" text-anchor="middle">-2</text>
<text class="t" transform="translate(221.0,1562.1) scale(0.95,1)" text-anchor="middle">-4</text>
<text class="t" transform="translate(248.6,1604.6) scale(0.95,1)" text-anchor="middle">-4</text>
<text class="t" transform="translate(356.1,1604.6) scale(0.95,1)" text-anchor="middle">-2</text>
<text class="t" transform="translate(464.0,1604.6) scale(0.95,1)" text-anchor="middle">0</text>
<text class="t" transform="translate(571.5,1604.6) scale(0.95,1)" text-anchor="middle">2</text>
<text class="t" transform="translate(678.9,1604.6) scale(0.95,1)" text-anchor="middle">4</text>
<svg x="763.7" y="1120.8" width="427.6" height="426.1" viewBox="0 0 428.0 426.0" preserveAspectRatio="none" overflow="hidden"><g filter="url(#jet)"><rect x="-2" y="-2" width="432.0" height="430.0" fill="#000"/><circle cx="213.7" cy="212.7" r="400" fill="url(#rh2c)" transform="translate(0.0,-1.2)"/><g filter="url(#b14)" fill="#404040" opacity="0.7" style="mix-blend-mode:lighten"><ellipse cx="224.5" cy="116.0" rx="26.8" ry="20.1"/><ellipse cx="311.6" cy="240.5" rx="22.8" ry="24.1"/><ellipse cx="128.1" cy="275.3" rx="25.4" ry="22.8"/></g><g mask="url(#mk2)"><g filter="url(#b6)" fill="#d1d1d1"><path d="M213.8 152.1C219.4 150.6 231.9 148.6 239.3 150.8C246.6 153.0 254.0 159.5 258.0 165.5C262.1 171.5 263.3 180.5 263.4 187.0C263.5 193.4 259.3 198.8 258.7 204.4C258.1 209.9 258.6 214.4 260.0 220.4C261.5 226.5 266.2 233.8 267.4 240.5C268.6 247.2 270.1 255.3 267.4 260.6C264.7 266.0 257.4 270.4 251.3 272.7C245.3 274.9 237.5 275.1 231.2 274.0C225.0 272.9 219.0 269.1 213.8 266.0C208.7 262.8 206.0 258.2 200.4 255.3C194.9 252.4 187.0 251.0 180.4 248.6C173.7 246.1 165.4 245.2 160.3 240.5C155.1 235.8 151.1 227.1 149.5 220.4C148.0 213.7 148.2 205.5 150.9 200.3C153.6 195.2 160.5 192.8 165.6 189.6C170.8 186.5 176.8 184.5 181.7 181.6C186.6 178.7 191.1 175.8 195.1 172.2C199.1 168.6 202.7 163.5 205.8 160.2C208.9 156.8 208.3 153.7 213.8 152.1Z"/></g><g filter="url(#b6)" fill="#e2e2e2"><path d="M212.7 155.4C218.3 152.9 232.6 151.9 239.8 154.1C247.0 156.4 253.4 163.6 255.8 168.9C258.3 174.2 256.9 181.2 254.6 186.2C252.3 191.1 247.6 196.4 242.3 198.5C236.9 200.5 227.9 200.5 222.6 198.5C217.2 196.4 212.9 191.1 210.2 186.2C207.6 181.2 206.1 174.0 206.5 168.9C207.0 163.8 207.2 157.8 212.7 155.4Z"/><path d="M154.0 204.1C156.8 199.6 163.0 195.5 168.7 194.3C174.5 193.0 183.7 193.9 188.5 196.7C193.2 199.6 196.3 206.2 197.1 211.5C197.9 216.9 196.5 224.0 193.4 228.8C190.3 233.5 184.3 238.4 178.6 239.9C172.8 241.3 163.4 240.5 158.9 237.4C154.4 234.3 152.3 226.9 151.5 221.4C150.7 215.8 151.1 208.6 154.0 204.1Z"/><path d="M219.5 228.8C223.6 225.5 233.9 222.6 240.4 223.9C247.0 225.1 255.0 231.3 258.9 236.2C262.8 241.1 264.9 248.1 263.9 253.4C262.8 258.8 257.7 265.4 252.8 268.2C247.8 271.1 239.4 272.1 234.3 270.7C229.2 269.3 225.0 264.1 222.0 259.6C218.9 255.1 216.2 248.7 215.8 243.6C215.4 238.5 215.4 232.1 219.5 228.8Z"/></g><g filter="url(#b4)" fill="#fbfbfb"><ellipse cx="231.2" cy="187.0" rx="6.4" ry="4.8" transform="rotate(-20 231.2 187.0)"/><ellipse cx="181.7" cy="212.4" rx="6.4" ry="5.1" transform="rotate(20 181.7 212.4)"/><ellipse cx="229.9" cy="240.5" rx="4.8" ry="7.0" transform="rotate(-10 229.9 240.5)"/></g><g filter="url(#b5)" fill="#cccccc"><ellipse cx="213.8" cy="213.1" rx="14.7" ry="14.7"/></g><g filter="url(#b4)" fill="#a1a1a1"><ellipse cx="203.1" cy="197.7" rx="8.3" ry="7.4" transform="rotate(40 203.1 197.7)"/><ellipse cx="231.2" cy="213.1" rx="9.1" ry="7.4"/><ellipse cx="205.1" cy="229.8" rx="7.4" ry="8.7" transform="rotate(-30 205.1 229.8)"/></g><g filter="url(#b5)" fill="#999999"><ellipse cx="185.7" cy="162.8" rx="10.7" ry="6.0" transform="rotate(-35 185.7 162.8)"/><ellipse cx="273.4" cy="213.7" rx="5.6" ry="12.1"/><ellipse cx="184.4" cy="266.0" rx="11.4" ry="6.0" transform="rotate(25 184.4 266.0)"/></g></g></g><text class="w" x="-2" y="45">(c2)</text></svg>
<text class="t" transform="translate(734.6,1134.7) scale(0.95,1)" text-anchor="middle">4</text>
<text class="t" transform="translate(734.6,1241.6) scale(0.95,1)" text-anchor="middle">2</text>
<text class="t" transform="translate(734.6,1348.4) scale(0.95,1)" text-anchor="middle">0</text>
<text class="t" transform="translate(734.6,1455.3) scale(0.95,1)" text-anchor="middle">-2</text>
<text class="t" transform="translate(734.6,1562.1) scale(0.95,1)" text-anchor="middle">-4</text>
<text class="t" transform="translate(764.0,1604.6) scale(0.95,1)" text-anchor="middle">-4</text>
<text class="t" transform="translate(871.3,1604.6) scale(0.95,1)" text-anchor="middle">-2</text>
<text class="t" transform="translate(979.0,1604.6) scale(0.95,1)" text-anchor="middle">0</text>
<text class="t" transform="translate(1086.3,1604.6) scale(0.95,1)" text-anchor="middle">2</text>
<text class="t" transform="translate(1193.6,1604.6) scale(0.95,1)" text-anchor="middle">4</text>
<svg x="1277.0" y="1120.8" width="427.9" height="426.1" viewBox="0 0 428.0 426.0" preserveAspectRatio="none" overflow="hidden"><g filter="url(#jet)"><rect x="-2" y="-2" width="432.0" height="430.0" fill="#000"/><circle cx="213.7" cy="212.7" r="400" fill="url(#rh3)" transform="translate(0.0,0.0)"/><g filter="url(#b14)" fill="#404040" opacity="0.65" style="mix-blend-mode:lighten"><ellipse cx="210.5" cy="118.6" rx="25.4" ry="20.1"/><ellipse cx="306.9" cy="249.9" rx="24.1" ry="22.8" transform="rotate(30 306.9 249.9)"/><ellipse cx="131.5" cy="275.3" rx="25.4" ry="22.8" transform="rotate(-30 131.5 275.3)"/></g><g filter="url(#b8)" fill="#616161" opacity="0.8" style="mix-blend-mode:lighten"><ellipse cx="210.5" cy="118.6" rx="16.1" ry="12.7"/><ellipse cx="306.9" cy="247.2" rx="13.4" ry="16.7" transform="rotate(30 306.9 247.2)"/><ellipse cx="130.2" cy="271.3" rx="16.7" ry="13.4" transform="rotate(-30 130.2 271.3)"/></g><g filter="url(#b7)" fill="#747474"><path d="M208.7 113.8C217.7 115.5 233.1 122.4 243.8 129.1C254.5 135.8 264.5 143.7 273.0 154.0C281.5 164.2 289.0 178.0 294.9 190.5C300.7 202.9 307.0 217.0 308.0 228.4C309.0 239.8 306.3 249.6 300.7 259.1C295.1 268.6 286.4 278.8 274.4 285.3C262.5 291.9 244.0 296.0 229.2 298.5C214.3 300.9 199.0 301.6 185.4 299.9C171.8 298.2 156.7 294.1 147.4 288.3C138.2 282.4 133.8 274.9 129.9 264.9C126.0 254.9 124.1 240.6 124.1 228.4C124.1 216.2 126.0 202.9 129.9 191.9C133.8 181.0 140.6 172.0 147.4 162.7C154.2 153.5 163.7 143.7 170.8 136.4C177.8 129.1 183.4 122.7 189.8 118.9C196.1 115.1 199.7 112.1 208.7 113.8Z"/></g><g filter="url(#b3_5)" fill="#909090"><path d="M214.6 136.5C223.1 137.0 239.8 136.5 249.0 140.6C258.2 144.8 264.0 153.8 269.7 161.3C275.5 168.9 280.1 177.4 283.5 186.2C287.0 194.9 289.5 204.6 290.4 213.8C291.3 223.0 291.3 232.4 289.0 241.3C286.7 250.3 283.3 260.7 276.6 267.6C270.0 274.5 259.4 279.7 249.0 282.7C238.7 285.7 226.0 285.5 214.6 285.5C203.1 285.5 190.4 285.5 180.1 282.7C169.7 280.0 159.6 275.8 152.5 268.9C145.3 262.0 140.3 250.5 137.3 241.3C134.3 232.2 133.6 223.0 134.5 213.8C135.5 204.6 138.7 194.7 142.8 186.2C147.0 177.7 153.2 169.6 159.4 162.7C165.6 155.8 173.6 148.9 180.1 144.8C186.5 140.6 192.3 139.3 198.0 137.9C203.7 136.5 206.0 136.1 214.6 136.5Z"/></g><g filter="url(#b5)" fill="#787878"><ellipse cx="173.0" cy="161.5" rx="13.4" ry="9.4" transform="rotate(-30 173.0 161.5)"/><ellipse cx="276.8" cy="207.0" rx="8.0" ry="13.4"/><ellipse cx="193.1" cy="273.3" rx="13.4" ry="8.0" transform="rotate(10 193.1 273.3)"/></g><g filter="url(#b5)" fill="#b8b8b8"><path d="M214.5 144.1C221.2 144.3 234.0 144.1 241.3 146.8C248.7 149.5 255.2 154.6 258.7 160.2C262.3 165.7 262.3 173.6 262.8 180.3C263.2 187.0 260.5 194.8 261.4 200.3C262.3 205.9 265.2 209.3 268.1 213.7C271.0 218.2 277.0 221.5 278.8 227.1C280.6 232.7 281.1 240.5 278.8 247.2C276.6 253.9 271.7 262.4 265.4 267.3C259.2 272.2 248.7 275.6 241.3 276.7C234.0 277.8 226.8 276.0 221.2 274.0C215.7 272.0 213.0 266.9 207.8 264.6C202.7 262.4 196.0 260.8 190.4 260.6C184.8 260.4 179.7 264.4 174.4 263.3C169.0 262.2 163.2 258.8 158.3 253.9C153.4 249.0 147.3 240.5 144.9 233.8C142.4 227.1 142.7 220.2 143.6 213.7C144.4 207.3 146.7 199.9 150.2 195.0C153.8 190.1 159.8 187.4 165.0 184.3C170.1 181.1 176.8 179.8 181.1 176.2C185.3 172.7 188.4 167.1 190.4 162.8C192.4 158.6 191.3 153.7 193.1 150.8C194.9 147.9 197.6 146.5 201.1 145.4C204.7 144.3 207.8 143.9 214.5 144.1Z"/></g><g filter="url(#b5)" fill="#e0e0e0"><path d="M208.0 153.0C209.8 148.9 221.6 147.6 228.0 148.4C234.5 149.1 242.4 153.0 246.5 157.6C250.6 162.2 253.2 169.9 252.7 176.1C252.2 182.2 247.5 189.9 243.4 194.6C239.3 199.2 233.2 202.8 228.0 203.8C222.9 204.8 216.0 203.3 212.6 200.7C209.3 198.2 207.2 193.0 208.0 188.4C208.8 183.8 217.3 178.9 217.3 173.0C217.3 167.1 206.2 157.1 208.0 153.0Z"/><path d="M151.1 212.2C153.9 207.6 160.1 205.8 166.5 204.5C172.9 203.2 183.4 202.7 189.6 204.5C195.7 206.3 201.6 211.4 203.4 215.3C205.2 219.1 203.2 225.1 200.4 227.6C197.5 230.2 191.4 229.2 186.5 230.7C181.6 232.2 175.2 233.5 171.1 236.9C167.0 240.2 165.5 251.5 161.9 250.7C158.3 250.0 151.3 238.7 149.5 232.2C147.7 225.8 148.3 216.8 151.1 212.2Z"/><path d="M216.6 224.8C217.9 220.2 225.1 216.6 228.9 217.1C232.8 217.6 236.4 224.3 239.7 227.9C243.1 231.5 243.8 236.8 249.0 238.6C254.1 240.4 267.2 235.3 270.5 238.6C273.9 242.0 272.6 253.3 269.0 258.7C265.4 264.1 255.1 270.2 249.0 271.0C242.8 271.8 236.6 267.7 232.0 263.3C227.4 258.9 223.8 251.2 221.2 244.8C218.7 238.4 215.3 229.4 216.6 224.8Z"/></g><g filter="url(#b4)" fill="#fcfcfc"><ellipse cx="222.6" cy="188.3" rx="8.0" ry="6.4" transform="rotate(-30 222.6 188.3)"/><ellipse cx="187.8" cy="216.4" rx="8.3" ry="6.4" transform="rotate(10 187.8 216.4)"/><ellipse cx="230.6" cy="233.8" rx="6.4" ry="8.6" transform="rotate(10 230.6 233.8)"/></g></g><text class="w" x="-2" y="45">(c3)</text></svg>
<text class="t" transform="translate(1249.8,1134.7) scale(0.95,1)" text-anchor="middle">4</text>
<text class="t" transform="translate(1249.8,1241.6) scale(0.95,1)" text-anchor="middle">2</text>
<text class="t" transform="translate(1249.8,1348.4) scale(0.95,1)" text-anchor="middle">0</text>
<text class="t" transform="translate(1249.8,1455.3) scale(0.95,1)" text-anchor="middle">-2</text>
<text class="t" transform="translate(1249.8,1562.1) scale(0.95,1)" text-anchor="middle">-4</text>
<text class="t" transform="translate(1277.3,1604.6) scale(0.95,1)" text-anchor="middle">-4</text>
<text class="t" transform="translate(1384.7,1604.6) scale(0.95,1)" text-anchor="middle">-2</text>
<text class="t" transform="translate(1492.5,1604.6) scale(0.95,1)" text-anchor="middle">0</text>
<text class="t" transform="translate(1599.8,1604.6) scale(0.95,1)" text-anchor="middle">2</text>
<text class="t" transform="translate(1707.2,1604.6) scale(0.95,1)" text-anchor="middle">4</text>
<svg x="248.3" y="1633.5" width="428.3" height="426.7" viewBox="0 0 428.0 426.0" preserveAspectRatio="none" overflow="hidden"><g filter="url(#jet)"><rect x="-2" y="-2" width="432.0" height="430.0" fill="#000"/><circle cx="213.7" cy="212.7" r="400" fill="url(#rd1)"/></g><text class="w" x="-2" y="45">(d1)</text></svg>
<text class="t" transform="translate(221.0,1647.4) scale(0.95,1)" text-anchor="middle">4</text>
<text class="t" transform="translate(221.0,1754.4) scale(0.95,1)" text-anchor="middle">2</text>
<text class="t" transform="translate(221.0,1861.4) scale(0.95,1)" text-anchor="middle">0</text>
<text class="t" transform="translate(221.0,1968.4) scale(0.95,1)" text-anchor="middle">-2</text>
<text class="t" transform="translate(221.0,2075.4) scale(0.95,1)" text-anchor="middle">-4</text>
<text class="t" transform="translate(248.6,2117.9) scale(0.95,1)" text-anchor="middle">-4</text>
<text class="t" transform="translate(356.1,2117.9) scale(0.95,1)" text-anchor="middle">-2</text>
<text class="t" transform="translate(464.0,2117.9) scale(0.95,1)" text-anchor="middle">0</text>
<text class="t" transform="translate(571.5,2117.9) scale(0.95,1)" text-anchor="middle">2</text>
<text class="t" transform="translate(678.9,2117.9) scale(0.95,1)" text-anchor="middle">4</text>
<svg x="763.7" y="1633.5" width="427.6" height="426.7" viewBox="0 0 428.0 426.0" preserveAspectRatio="none" overflow="hidden"><g filter="url(#jet)"><rect x="-2" y="-2" width="432.0" height="430.0" fill="#000"/><circle cx="213.7" cy="212.7" r="400" fill="url(#rh2c)" transform="translate(0.0,-1.2)"/><g filter="url(#b14)" fill="#404040" opacity="0.7" style="mix-blend-mode:lighten"><ellipse cx="224.5" cy="116.3" rx="26.8" ry="20.1"/><ellipse cx="311.6" cy="240.8" rx="22.8" ry="24.1"/><ellipse cx="128.1" cy="275.6" rx="25.4" ry="22.8"/></g><g mask="url(#mk2)"><g filter="url(#b6)" fill="#c9c9c9"><path d="M213.8 152.4C219.4 150.9 231.9 148.9 239.3 151.1C246.6 153.3 254.0 159.8 258.0 165.8C262.1 171.8 263.3 180.8 263.4 187.2C263.5 193.7 259.3 199.1 258.7 204.7C258.1 210.2 258.6 214.7 260.0 220.7C261.5 226.8 266.2 234.1 267.4 240.8C268.6 247.5 270.1 255.6 267.4 260.9C264.7 266.3 257.4 270.7 251.3 273.0C245.3 275.2 237.5 275.4 231.2 274.3C225.0 273.2 219.0 269.4 213.8 266.3C208.7 263.1 206.0 258.5 200.4 255.6C194.9 252.7 187.0 251.3 180.4 248.9C173.7 246.4 165.4 245.5 160.3 240.8C155.1 236.1 151.1 227.4 149.5 220.7C148.0 214.0 148.2 205.8 150.9 200.6C153.6 195.5 160.5 193.1 165.6 189.9C170.8 186.8 176.8 184.8 181.7 181.9C186.6 179.0 191.1 176.1 195.1 172.5C199.1 168.9 202.7 163.8 205.8 160.5C208.9 157.1 208.3 154.0 213.8 152.4Z"/></g><g filter="url(#b6)" fill="#e2e2e2"><path d="M214.7 158.0C219.6 155.8 232.4 154.9 238.8 156.9C245.2 158.9 250.9 165.3 253.1 170.1C255.3 174.9 254.0 181.1 252.0 185.5C250.0 189.9 245.8 194.6 241.0 196.5C236.3 198.3 228.2 198.3 223.4 196.5C218.7 194.6 214.8 189.9 212.5 185.5C210.1 181.1 208.8 174.7 209.2 170.1C209.5 165.5 209.7 160.2 214.7 158.0Z"/><path d="M156.1 205.8C158.7 201.8 164.2 198.1 169.3 197.0C174.4 195.9 182.7 196.6 186.9 199.2C191.1 201.8 193.8 207.6 194.6 212.4C195.3 217.1 194.0 223.5 191.3 227.8C188.5 232.0 183.2 236.4 178.1 237.6C173.0 238.9 164.5 238.2 160.5 235.4C156.5 232.7 154.7 226.1 153.9 221.2C153.2 216.2 153.6 209.8 156.1 205.8Z"/><path d="M221.6 231.2C225.2 228.3 234.4 225.7 240.2 226.8C246.1 227.9 253.2 233.4 256.7 237.8C260.2 242.2 262.0 248.4 261.1 253.2C260.2 257.9 255.6 263.8 251.2 266.3C246.8 268.9 239.3 269.8 234.7 268.5C230.2 267.3 226.5 262.7 223.8 258.7C221.0 254.6 218.6 248.9 218.3 244.4C217.9 239.8 217.9 234.1 221.6 231.2Z"/></g><g filter="url(#b4)" fill="#fbfbfb"><ellipse cx="231.2" cy="187.2" rx="6.0" ry="4.3" transform="rotate(-20 231.2 187.2)"/><ellipse cx="184.4" cy="212.0" rx="6.0" ry="4.8" transform="rotate(30 184.4 212.0)"/><ellipse cx="228.6" cy="240.8" rx="4.6" ry="6.7" transform="rotate(-5 228.6 240.8)"/></g><g filter="url(#b5)" fill="#cccccc"><ellipse cx="213.8" cy="213.4" rx="14.7" ry="14.7"/></g><g filter="url(#b4)" fill="#9f9f9f"><ellipse cx="203.1" cy="198.0" rx="9.1" ry="8.0" transform="rotate(40 203.1 198.0)"/><ellipse cx="231.2" cy="212.0" rx="9.6" ry="8.0"/><ellipse cx="206.5" cy="229.4" rx="8.0" ry="9.4" transform="rotate(-30 206.5 229.4)"/></g><g filter="url(#b4)" fill="#8a8a8a"><ellipse cx="185.7" cy="163.1" rx="14.7" ry="8.0" transform="rotate(-40 185.7 163.1)"/><ellipse cx="272.1" cy="214.0" rx="7.8" ry="16.1"/><ellipse cx="185.7" cy="264.3" rx="16.1" ry="8.0" transform="rotate(20 185.7 264.3)"/></g><g filter="url(#b3)" fill="#8a8a8a"><ellipse cx="203.1" cy="198.0" rx="5.1" ry="4.3" transform="rotate(40 203.1 198.0)"/><ellipse cx="231.2" cy="212.0" rx="5.4" ry="4.3"/><ellipse cx="206.5" cy="229.4" rx="4.3" ry="5.4" transform="rotate(-30 206.5 229.4)"/></g><g filter="url(#b4)" fill="#e2e2e2"><ellipse cx="199.1" cy="176.5" rx="6.7" ry="4.7"/><ellipse cx="255.4" cy="214.0" rx="4.7" ry="7.4"/><ellipse cx="197.1" cy="248.9" rx="5.4" ry="6.0"/></g></g></g><text class="w" x="-2" y="45">(d2)</text></svg>
<text class="t" transform="translate(734.6,1647.4) scale(0.95,1)" text-anchor="middle">4</text>
<text class="t" transform="translate(734.6,1754.4) scale(0.95,1)" text-anchor="middle">2</text>
<text class="t" transform="translate(734.6,1861.4) scale(0.95,1)" text-anchor="middle">0</text>
<text class="t" transform="translate(734.6,1968.4) scale(0.95,1)" text-anchor="middle">-2</text>
<text class="t" transform="translate(734.6,2075.4) scale(0.95,1)" text-anchor="middle">-4</text>
<text class="t" transform="translate(764.0,2117.9) scale(0.95,1)" text-anchor="middle">-4</text>
<text class="t" transform="translate(871.3,2117.9) scale(0.95,1)" text-anchor="middle">-2</text>
<text class="t" transform="translate(979.0,2117.9) scale(0.95,1)" text-anchor="middle">0</text>
<text class="t" transform="translate(1086.3,2117.9) scale(0.95,1)" text-anchor="middle">2</text>
<text class="t" transform="translate(1193.6,2117.9) scale(0.95,1)" text-anchor="middle">4</text>
<svg x="1277.0" y="1633.5" width="427.9" height="426.7" viewBox="0 0 428.0 426.0" preserveAspectRatio="none" overflow="hidden"><g filter="url(#jet)"><rect x="-2" y="-2" width="432.0" height="430.0" fill="#000"/><circle cx="213.7" cy="212.7" r="400" fill="url(#rh3)" transform="translate(0.0,0.0)"/><g filter="url(#b14)" fill="#404040" opacity="0.65" style="mix-blend-mode:lighten"><ellipse cx="210.5" cy="118.9" rx="25.4" ry="20.1"/><ellipse cx="306.9" cy="250.2" rx="24.1" ry="22.8" transform="rotate(30 306.9 250.2)"/><ellipse cx="131.5" cy="275.6" rx="25.4" ry="22.8" transform="rotate(-30 131.5 275.6)"/></g><g filter="url(#b8)" fill="#616161" opacity="0.8" style="mix-blend-mode:lighten"><ellipse cx="210.5" cy="118.9" rx="16.1" ry="12.7"/><ellipse cx="306.9" cy="247.5" rx="13.4" ry="16.7" transform="rotate(30 306.9 247.5)"/><ellipse cx="130.2" cy="271.6" rx="16.7" ry="13.4" transform="rotate(-30 130.2 271.6)"/></g><g filter="url(#b7)" fill="#737373"><path d="M208.7 114.1C217.7 115.8 233.1 122.7 243.8 129.4C254.5 136.1 264.5 144.0 273.0 154.3C281.5 164.5 289.0 178.3 294.9 190.8C300.7 203.2 307.0 217.3 308.0 228.7C309.0 240.1 306.3 249.9 300.7 259.4C295.1 268.9 286.4 279.1 274.4 285.6C262.5 292.2 244.0 296.3 229.2 298.8C214.3 301.2 199.0 301.9 185.4 300.2C171.8 298.5 156.7 294.4 147.4 288.6C138.2 282.7 133.8 275.2 129.9 265.2C126.0 255.2 124.1 240.9 124.1 228.7C124.1 216.5 126.0 203.2 129.9 192.2C133.8 181.3 140.6 172.3 147.4 163.0C154.2 153.8 163.7 144.0 170.8 136.7C177.8 129.4 183.4 123.0 189.8 119.2C196.1 115.4 199.7 112.4 208.7 114.1Z"/></g><g filter="url(#b3_5)" fill="#8f8f8f"><path d="M214.5 137.6C223.0 138.0 239.6 137.6 248.7 141.7C257.8 145.8 263.5 154.6 269.2 162.2C274.9 169.7 279.4 178.1 282.8 186.7C286.2 195.4 288.7 204.9 289.7 214.1C290.6 223.2 290.6 232.5 288.3 241.4C286.0 250.2 282.6 260.5 276.0 267.3C269.4 274.1 258.9 279.4 248.7 282.3C238.4 285.3 225.9 285.1 214.5 285.1C203.2 285.1 190.6 285.1 180.4 282.3C170.2 279.6 160.1 275.5 153.1 268.7C146.0 261.8 141.0 250.5 138.1 241.4C135.1 232.3 134.4 223.2 135.3 214.1C136.2 204.9 139.4 195.2 143.5 186.7C147.6 178.3 153.8 170.4 159.9 163.5C166.1 156.7 174.0 149.9 180.4 145.8C186.8 141.7 192.5 140.3 198.2 138.9C203.8 137.6 206.1 137.1 214.5 137.6Z"/></g><g filter="url(#b5)" fill="#707070" style="mix-blend-mode:lighten"><ellipse cx="175.7" cy="164.5" rx="13.4" ry="10.0" transform="rotate(-30 175.7 164.5)"/><ellipse cx="274.1" cy="207.3" rx="8.7" ry="14.1"/><ellipse cx="191.8" cy="268.9" rx="14.1" ry="8.7" transform="rotate(10 191.8 268.9)"/></g><g filter="url(#b4)" fill="#b0b0b0"><path d="M199.2 147.0C203.1 143.8 213.9 142.6 221.3 142.6C228.7 142.6 236.8 143.8 243.4 147.0C250.0 150.2 257.1 156.4 261.1 161.8C265.0 167.2 267.5 174.3 267.0 179.4C266.5 184.6 261.6 188.8 258.1 192.7C254.7 196.6 251.2 200.3 246.3 203.0C241.4 205.7 234.1 208.9 228.7 208.9C223.3 208.9 218.1 206.0 213.9 203.0C209.7 200.1 208.5 193.7 203.6 191.2C198.7 188.8 188.9 190.2 184.5 188.3C180.0 186.3 176.6 182.1 177.1 179.4C177.6 176.7 184.0 175.0 187.4 172.1C190.8 169.1 195.8 165.9 197.7 161.8C199.7 157.6 195.3 150.2 199.2 147.0Z"/><path d="M147.4 197.8C150.5 193.3 156.4 193.3 162.1 193.3C167.7 193.3 174.9 195.8 181.2 197.8C187.6 199.7 196.0 201.4 200.4 205.1C204.8 208.8 207.3 214.9 207.8 219.9C208.2 224.8 203.6 229.7 203.3 234.6C203.1 239.5 206.8 245.1 206.3 249.3C205.8 253.5 203.3 258.4 200.4 259.6C197.4 260.9 192.5 256.9 188.6 256.7C184.7 256.4 181.2 258.9 176.8 258.2C172.4 257.4 166.5 255.5 162.1 252.3C157.7 249.1 153.5 244.4 150.3 239.0C147.1 233.6 143.4 226.7 142.9 219.9C142.4 213.0 144.2 202.2 147.4 197.8Z"/><path d="M215.6 226.4C217.1 221.5 222.3 221.5 225.9 219.1C229.6 216.6 233.3 215.4 237.7 211.7C242.1 208.0 248.5 197.4 252.5 197.0C256.4 196.5 260.1 204.3 261.3 208.7C262.5 213.2 257.4 220.0 259.8 223.5C262.3 226.9 272.3 226.4 276.0 229.4C279.7 232.3 282.2 236.0 281.9 241.2C281.7 246.3 278.5 254.9 274.6 260.3C270.6 265.7 264.5 270.6 258.4 273.6C252.2 276.5 243.6 278.5 237.7 278.0C231.8 277.5 226.4 275.5 223.0 270.6C219.6 265.7 218.3 255.9 217.1 248.5C215.9 241.2 214.2 231.3 215.6 226.4Z"/></g><g filter="url(#b5)" fill="#d4d4d4"><path d="M207.8 152.4C211.4 149.3 221.5 149.1 227.9 149.8C234.4 150.4 241.5 152.4 246.7 156.4C251.8 160.5 258.1 168.3 258.7 173.9C259.4 179.4 254.7 188.6 250.7 189.9C246.7 191.3 239.5 185.0 234.6 181.9C229.7 178.8 225.9 173.4 221.2 171.2C216.5 168.9 208.7 171.6 206.5 168.5C204.3 165.4 204.3 155.6 207.8 152.4Z"/><path d="M151.6 206.0C154.3 203.1 161.6 200.9 165.0 203.3C168.3 205.8 170.6 214.7 171.7 220.7C172.8 226.8 170.8 234.3 171.7 239.5C172.6 244.6 178.4 250.0 177.0 251.5C175.7 253.1 167.7 251.5 163.6 248.9C159.6 246.2 155.4 240.2 152.9 235.5C150.5 230.8 149.1 225.6 148.9 220.7C148.7 215.8 148.9 208.9 151.6 206.0Z"/><path d="M234.6 252.9C237.1 249.3 246.7 251.3 252.0 248.9C257.4 246.4 262.8 239.3 266.8 238.1C270.8 237.0 275.7 238.6 276.1 242.2C276.6 245.7 273.0 254.9 269.4 259.6C265.9 264.3 260.1 268.5 254.7 270.3C249.4 272.1 240.7 273.2 237.3 270.3C234.0 267.4 232.2 256.4 234.6 252.9Z"/></g><g filter="url(#b4)" fill="#e6e6e6"><ellipse cx="223.2" cy="187.2" rx="14.7" ry="11.4" transform="rotate(-30 223.2 187.2)"/><ellipse cx="186.4" cy="217.4" rx="15.0" ry="11.4" transform="rotate(20 186.4 217.4)"/><ellipse cx="229.9" cy="234.1" rx="11.4" ry="15.4" transform="rotate(5 229.9 234.1)"/></g><g filter="url(#b3)" fill="#fcfcfc"><ellipse cx="222.6" cy="189.3" rx="4.8" ry="3.6" transform="rotate(-30 222.6 189.3)"/><ellipse cx="188.4" cy="217.4" rx="4.8" ry="3.6" transform="rotate(20 188.4 217.4)"/><ellipse cx="229.5" cy="234.1" rx="3.6" ry="5.1" transform="rotate(5 229.5 234.1)"/></g></g><text class="w" x="-2" y="45">(d3)</text></svg>
<text class="t" transform="translate(1249.8,1647.4) scale(0.95,1)" text-anchor="middle">4</text>
<text class="t" transform="translate(1249.8,1754.4) scale(0.95,1)" text-anchor="middle">2</text>
<text class="t" transform="translate(1249.8,1861.4) scale(0.95,1)" text-anchor="middle">0</text>
<text class="t" transform="translate(1249.8,1968.4) scale(0.95,1)" text-anchor="middle">-2</text>
<text class="t" transform="translate(1249.8,2075.4) scale(0.95,1)" text-anchor="middle">-4</text>
<text class="t" transform="translate(1277.3,2117.9) scale(0.95,1)" text-anchor="middle">-4</text>
<text class="t" transform="translate(1384.7,2117.9) scale(0.95,1)" text-anchor="middle">-2</text>
<text class="t" transform="translate(1492.5,2117.9) scale(0.95,1)" text-anchor="middle">0</text>
<text class="t" transform="translate(1599.8,2117.9) scale(0.95,1)" text-anchor="middle">2</text>
<text class="t" transform="translate(1707.2,2117.9) scale(0.95,1)" text-anchor="middle">4</text>
<text class="b" x="460.0" y="71" text-anchor="middle"><tspan class="i">n</tspan>=1</text>
<text class="b" x="975.0" y="71" text-anchor="middle"><tspan class="i">n</tspan>=2</text>
<text class="b" x="1488.5" y="71" text-anchor="middle"><tspan class="i">n</tspan>=3</text>
<text class="b" transform="translate(154,390.4) rotate(-90)"><tspan class="i" x="0">p</tspan><tspan x="92.4">=</tspan><tspan x="128">0</tspan></text>
<text class="b" transform="translate(151,354.4) rotate(-90) skewX(-24)">’</text>
<text class="b" transform="translate(154,902.8) rotate(-90)"><tspan class="i" x="0">p</tspan><tspan x="92.4">=</tspan><tspan x="128">1</tspan></text>
<text class="b" transform="translate(151,866.8) rotate(-90) skewX(-24)">’</text>
<text class="b" transform="translate(154,1415.4) rotate(-90)"><tspan class="i" x="0">p</tspan><tspan x="92.4">=</tspan><tspan x="128">2</tspan></text>
<text class="b" transform="translate(151,1379.4) rotate(-90) skewX(-24)">’</text>
<text class="b" transform="translate(154,1928.4) rotate(-90)"><tspan class="i" x="0">p</tspan><tspan x="92.4">=</tspan><tspan x="128">3</tspan></text>
<text class="b" transform="translate(151,1892.4) rotate(-90) skewX(-24)">’</text>
<text transform="translate(976,2177)" font-size="61" text-anchor="middle"><tspan class="i">x</tspan>(wavelength)</text>
<text transform="translate(66.3,1079.8) rotate(-90)" font-size="61.4" text-anchor="middle"><tspan class="i">y</tspan>(wavelength)</text>
<rect x="1737.15" y="96.35" width="81.60" height="1963.00" fill="url(#cb)" stroke="#262626" stroke-width="2.3"/>
<rect x="1737.15" y="97.35" width="81.60" height="1.6" fill="#262626" opacity="0.7"/>
<rect x="1737.15" y="2056.15" width="81.60" height="2.4" fill="#262626" opacity="0.6"/>
<text transform="translate(1863.6,2078.5) scale(0.97,1)" font-size="61" text-anchor="middle">0</text>
<line x1="1804.2" y1="1870.4" x2="1818.8" y2="1870.4" stroke="#262626" stroke-width="2.6"/>
<text transform="translate(1863.6,1893.6) scale(0.97,1)" font-size="61" text-anchor="middle">0.1</text>
<line x1="1804.2" y1="1673.4" x2="1818.8" y2="1673.4" stroke="#262626" stroke-width="2.6"/>
<text transform="translate(1863.6,1696.0) scale(0.97,1)" font-size="61" text-anchor="middle">0.2</text>
<line x1="1804.2" y1="1476.4" x2="1818.8" y2="1476.4" stroke="#262626" stroke-width="2.6"/>
<text transform="translate(1863.6,1498.4) scale(0.97,1)" font-size="61" text-anchor="middle">0.3</text>
<line x1="1804.2" y1="1279.4" x2="1818.8" y2="1279.4" stroke="#262626" stroke-width="2.6"/>
<text transform="translate(1863.6,1300.8) scale(0.97,1)" font-size="61" text-anchor="middle">0.4</text>
<line x1="1804.2" y1="1082.3" x2="1818.8" y2="1082.3" stroke="#262626" stroke-width="2.6"/>
<text transform="translate(1863.6,1103.2) scale(0.97,1)" font-size="61" text-anchor="middle">0.5</text>
<line x1="1804.2" y1="885.3" x2="1818.8" y2="885.3" stroke="#262626" stroke-width="2.6"/>
<text transform="translate(1863.6,905.6) scale(0.97,1)" font-size="61" text-anchor="middle">0.6</text>
<line x1="1804.2" y1="688.3" x2="1818.8" y2="688.3" stroke="#262626" stroke-width="2.6"/>
<text transform="translate(1863.6,708.0) scale(0.97,1)" font-size="61" text-anchor="middle">0.7</text>
<line x1="1804.2" y1="491.3" x2="1818.8" y2="491.3" stroke="#262626" stroke-width="2.6"/>
<text transform="translate(1863.6,510.4) scale(0.97,1)" font-size="61" text-anchor="middle">0.8</text>
<line x1="1804.2" y1="294.3" x2="1818.8" y2="294.3" stroke="#262626" stroke-width="2.6"/>
<text transform="translate(1863.6,312.8) scale(0.97,1)" font-size="61" text-anchor="middle">0.9</text>
<text transform="translate(1863.6,114.4) scale(0.97,1)" font-size="61" text-anchor="middle">1</text>
</svg></body></html>
